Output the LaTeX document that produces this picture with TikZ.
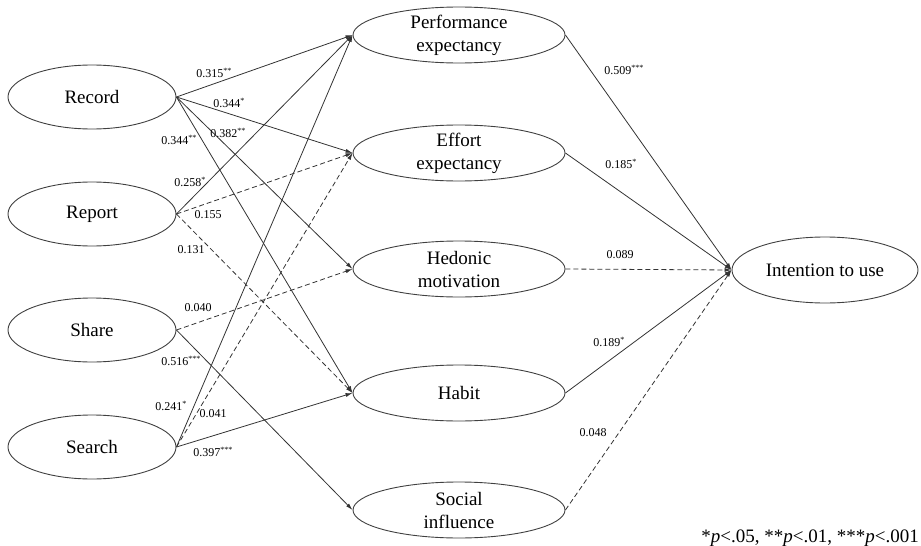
\documentclass[tikz,border=0pt]{standalone}
\usepackage{fontspec}
\setmainfont{Liberation Serif}
\usetikzlibrary{arrows.meta,shapes.geometric}
\tikzset{
  construct/.style={draw=black!75, line width=0.9pt, ellipse, inner sep=-6pt, align=center,
    font=\fontsize{19}{23}\selectfont},
  leftvar/.style={construct, minimum width=168pt, minimum height=64pt},
  midvar/.style={construct, minimum width=212pt, minimum height=56pt},
  sig/.style={draw=black!80, line width=0.8pt, -{Latex[length=7pt,width=4pt]}},
  ns/.style={sig, dash pattern=on 5pt off 3pt},
  coef/.style={font=\fontsize{12}{14}\selectfont, inner sep=0pt},
}
\begin{document}
\begin{tikzpicture}[x=1pt,y=-1pt]
    \useasboundingbox (0,0) rectangle (921,546);
    % exogenous variables
    \node[leftvar] (rec) at (92,97) {Record};
    \node[leftvar] (rep) at (92,214) {Report};
    \node[leftvar] (sha) at (92,330) {Share};
    \node[leftvar] (sea) at (92,447) {Search};
    % mediators
    \node[midvar] (perf) at (459,35) {Performance\\expectancy};
    \node[midvar] (eff) at (459,153) {Effort\\expectancy};
    \node[midvar] (hed) at (459,269) {Hedonic\\motivation};
    \node[midvar] (hab) at (459,393) {Habit};
    \node[midvar] (soc) at (459,510) {Social\\influence};
    % outcome
    \node[construct, minimum width=186pt, minimum height=66pt] (int) at (825,270) {Intention to use};
    % paths
    \foreach \a/\b/\s in {rec/perf/sig, rec/eff/sig, rec/hed/sig, rec/hab/sig,
        rep/perf/sig, rep/eff/ns, rep/hab/ns,
        sha/hed/ns, sha/soc/sig,
        sea/perf/sig, sea/eff/ns, sea/hab/sig,
        perf/int/sig, eff/int/sig, hed/int/ns, hab/int/sig, soc/int/ns}
    \draw[\s] (\a.east) -- (\b.west);
    % path coefficients
    \foreach \n/\x/\y/\t in {1/214/73/{0.315\textsuperscript{**}},
        2/229/103/{0.344\textsuperscript{*}},
        3/228/133/{0.382\textsuperscript{**}},
        4/179/140/{0.344\textsuperscript{**}},
        5/190/182/{0.258\textsuperscript{*}},
        6/208/215/{0.155},
        7/191/250/{0.131},
        8/198/308/{0.040},
        9/181/361/{0.516\textsuperscript{***}},
        10/171/406/{0.241\textsuperscript{*}},
        11/213/414/{0.041},
        12/213/452/{0.397\textsuperscript{***}},
        13/624/70/{0.509\textsuperscript{***}},
        14/621/164/{0.185\textsuperscript{*}},
        15/620/255/{0.089},
        16/609/342/{0.189\textsuperscript{*}},
        17/593/433/{0.048}}
    \node[coef] (c\n) at (\x,\y) {\t};
    % significance note
    \node[anchor=base east, inner sep=0pt, font=\fontsize{19}{23}\selectfont] (note) at (919,542)
        {*\textit{p}<.05, **\textit{p}<.01, ***\textit{p}<.001};
\end{tikzpicture}
\end{document}
